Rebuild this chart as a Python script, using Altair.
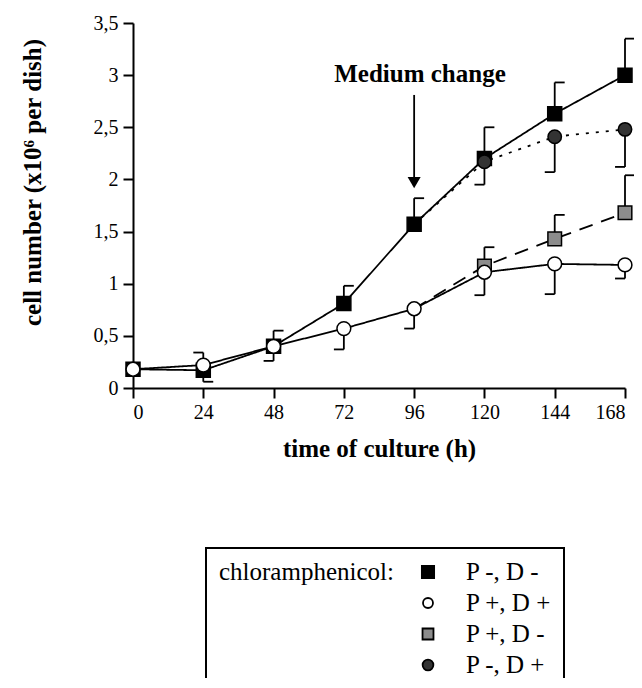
import altair as alt
import pandas as pd

# ---------------- data ----------------
hours = [0, 24, 48, 72, 96, 120, 144, 168]
series_names = ["P -, D -", "P +, D +", "P +, D -", "P -, D +"]

pm_dm = [0.18, 0.17, 0.40, 0.81, 1.57, 2.20, 2.63, 3.00]   # P -, D -
pp_dp = [0.18, 0.22, 0.40, 0.57, 0.76, 1.11, 1.19, 1.18]   # P +, D +
late_hours = [96, 120, 144, 168]                            # after medium change
pp_dm = [0.76, 1.17, 1.43, 1.68]                            # P +, D -
pm_dp = [1.57, 2.17, 2.41, 2.48]                            # P -, D +

# end value of the (one-sided) error bar for each point
pm_dm_err = [None, 0.06, 0.55, 0.98, 1.82, 2.50, 2.93, 3.35]
pp_dp_err = [None, 0.34, 0.26, 0.37, 0.57, 0.89, 0.90, 1.05]
pp_dm_err = [None, 1.35, 1.66, 2.04]
pm_dp_err = [None, 1.95, 2.07, 2.12]

y_ticks = [0, 0.5, 1, 1.5, 2, 2.5, 3, 3.5]
x_ticks = hours

annotation_text = "Medium change"
annot_hour = [96]
annot_text_hour = [98]
annot_text_value = [2.93]
arrow_top = [2.81]
arrow_tip = [1.97]

legend_title = "chloramphenicol:"

# ---------------- styles ----------------
FONT = "Liberation Serif"
shapes = {"P -, D -": "square", "P +, D +": "circle", "P +, D -": "square", "P -, D +": "circle"}
fills = {"P -, D -": "black", "P +, D +": "white", "P +, D -": "#8c8c8c", "P -, D +": "#333333"}
sizes = {"P -, D -": 196, "P +, D +": 180, "P +, D -": 144, "P -, D +": 130}
legend_sizes = {"P -, D -": 150, "P +, D +": 100, "P +, D -": 120, "P -, D +": 115}
dashes = {"P -, D -": [1, 0], "P +, D +": [1, 0], "P +, D -": [14, 9], "P -, D +": [3, 7]}
cap_side = {"P -, D -": 1, "P +, D +": -1, "P +, D -": 1, "P -, D +": -1}
CAP_W = 3.4  # cap length in hours (~10 px)

rows = []
for name, hs, vals, errs, first_marker in [
    ("P -, D -", hours, pm_dm, pm_dm_err, 0),
    ("P +, D -", late_hours, pp_dm, pp_dm_err, 1),
    ("P -, D +", late_hours, pm_dp, pm_dp_err, 1),
    ("P +, D +", hours, pp_dp, pp_dp_err, 0),
]:
    for i, (h, v, e) in enumerate(zip(hs, vals, errs)):
        rows.append({"series": name, "hour": h, "value": v, "err": e,
                     "side": cap_side[name], "marker": i >= first_marker})
df = pd.DataFrame(rows)
df["ord"] = range(len(df))

x_enc = alt.X("hour:Q", scale=alt.Scale(domain=[0, 168], nice=False, zero=False),
              axis=alt.Axis(values=x_ticks, title="time of culture (h)",
                            labelPadding=4, titleY=60, titleBaseline="middle"))
y_enc = alt.Y("value:Q", scale=alt.Scale(domain=[0, 3.5], nice=False),
              axis=alt.Axis(values=y_ticks, title="cell number (x10⁶ per dish)",
                            labelExpr="replace(format(datum.value, '~g'), '.', ',')",
                            labelPadding=5, titleX=-101, titleY=159, titleAngle=270,
                            titleAlign="center", titleBaseline="middle"))

base = alt.Chart(df)

lines = base.mark_line(color="black", strokeWidth=1.8).encode(
    x=x_enc, y=y_enc,
    detail="series:N",
    strokeDash=alt.StrokeDash("series:N", scale=alt.Scale(
        domain=series_names, range=[dashes[s] for s in series_names]), legend=None),
    order="hour:Q",
)

err_df = base.transform_filter("datum.err != null")
err_v = err_df.mark_rule(color="black", strokeWidth=1.8).encode(
    x=x_enc, y=y_enc, y2="err:Q")
err_cap = err_df.transform_calculate(
    cap_end=f"datum.hour + datum.side * {CAP_W}"
).mark_rule(color="black", strokeWidth=1.8).encode(
    x=x_enc, x2="cap_end:Q", y=alt.Y("err:Q"))

points = base.transform_filter("datum.marker").mark_point(
    filled=True, stroke="black", strokeWidth=1.5, opacity=1
).encode(
    x=x_enc, y=y_enc,
    shape=alt.Shape("series:N", scale=alt.Scale(
        domain=series_names, range=[shapes[s] for s in series_names]), legend=None),
    fill=alt.Fill("series:N", scale=alt.Scale(
        domain=series_names, range=[fills[s] for s in series_names]), legend=None),
    size=alt.Size("series:N", scale=alt.Scale(
        domain=series_names, range=[sizes[s] for s in series_names]), legend=None),
    order=alt.Order("ord:Q"),
)

annot_df = pd.DataFrame({"hour": annot_hour, "value": arrow_top, "tip": arrow_tip})
arrow_line = alt.Chart(annot_df).mark_rule(color="black", strokeWidth=1.8).encode(
    x=x_enc, y=y_enc, y2="tip:Q")
arrow_head = alt.Chart(annot_df).mark_point(
    shape="triangle-down", filled=True, color="black", size=170, opacity=1
).encode(x=x_enc, y=alt.Y("tip:Q"))

text_df = pd.DataFrame({"hour": annot_text_hour, "value": annot_text_value,
                        "label": [annotation_text]})
annot_text = alt.Chart(text_df).mark_text(
    font=FONT, fontSize=25, fontWeight="bold", color="black",
    align="center", baseline="alphabetic"
).encode(x=x_enc, y=y_enc, text="label:N")

# ---------------- legend box (drawn below the plot) ----------------
one = pd.DataFrame({"k": [0]})
LEG_LEFT, LEG_RIGHT, LEG_TOP, LEG_BOTTOM = 73, 431, 525, 690
LEG_TITLE_X, LEG_SYM_X, LEG_LABEL_X = 86, 295, 333
LEG_ROW_Y0, LEG_ROW_STEP = 549, 31

legend_layers = [
    alt.Chart(one).mark_rect(fillOpacity=0, stroke="black", strokeWidth=2).encode(
        x=alt.value(LEG_LEFT), x2=alt.value(LEG_RIGHT),
        y=alt.value(LEG_TOP), y2=alt.value(LEG_BOTTOM)),
    alt.Chart(one).mark_text(font=FONT, fontSize=25, color="black", align="left",
                             baseline="middle", text=legend_title).encode(
        x=alt.value(LEG_TITLE_X), y=alt.value(LEG_ROW_Y0)),
]
for i, s in enumerate(series_names):
    yy = LEG_ROW_Y0 + i * LEG_ROW_STEP
    legend_layers.append(
        alt.Chart(one).mark_point(filled=True, stroke="black", strokeWidth=1.8, opacity=1,
                                  shape=shapes[s], fill=fills[s], size=legend_sizes[s]).encode(
            x=alt.value(LEG_SYM_X), y=alt.value(yy)))
    legend_layers.append(
        alt.Chart(one).mark_text(font=FONT, fontSize=25, color="black", align="left",
                                 baseline="middle", text=s).encode(
            x=alt.value(LEG_LABEL_X), y=alt.value(yy)))

chart = alt.layer(lines, err_v, err_cap, arrow_line, arrow_head, annot_text, points,
                  *legend_layers).properties(
    width=492, height=365,
    padding={"left": 125, "top": 15, "right": 9, "bottom": 290},
    autosize=alt.AutoSizeParams(type="none"),
).configure_view(stroke=None).configure_axis(
    domainColor="black", domainWidth=2, tickColor="black", tickWidth=2, tickSize=10,
    grid=False, labelFont=FONT, labelFontSize=20, labelColor="black",
    titleFont=FONT, titleFontSize=25, titleFontWeight="bold", titleColor="black",
)

chart.save("out.html", embed_options={"renderer": "svg", "actions": False})
